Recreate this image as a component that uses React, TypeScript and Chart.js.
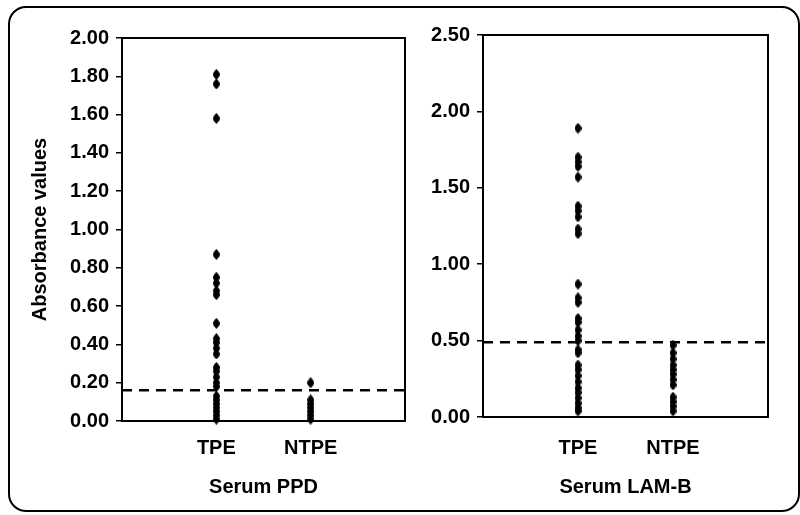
import React, { useEffect, useRef } from "react";
import { Chart, registerables } from "chart.js";

Chart.register(...registerables);

const categories = ["TPE", "NTPE"];

const ppdTPE = [1.81, 1.76, 1.58, 0.87, 0.75, 0.72, 0.68, 0.66, 0.51, 0.43, 0.41, 0.38, 0.35, 0.28, 0.26, 0.23, 0.2, 0.18, 0.13, 0.11, 0.09, 0.07, 0.05, 0.03, 0.01];
const ppdNTPE = [0.2, 0.11, 0.09, 0.07, 0.05, 0.03, 0.01];
const ppdCutoff = 0.16;
const ppdTicks = { min: 0, max: 2, step: 0.2 };

const lamTPE = [1.89, 1.7, 1.67, 1.64, 1.57, 1.38, 1.35, 1.31, 1.23, 1.2, 0.87, 0.78, 0.75, 0.645, 0.62, 0.57, 0.53, 0.5, 0.44, 0.42, 0.34, 0.31, 0.27, 0.23, 0.19, 0.16, 0.125, 0.09, 0.06, 0.04];
const lamNTPE = [0.47, 0.42, 0.38, 0.34, 0.31, 0.28, 0.245, 0.21, 0.13, 0.1, 0.07, 0.04];
const lamCutoff = 0.49;
const lamTicks = { min: 0, max: 2.5, step: 0.5 };

const FONT = "'Liberation Sans', Arial, sans-serif";

function makeDot(): HTMLCanvasElement {
  const c = document.createElement("canvas");
  c.width = 7;
  c.height = 11;
  const g = c.getContext("2d")!;
  g.fillStyle = "#000";
  g.beginPath();
  g.moveTo(3.5, 0);
  g.quadraticCurveTo(7, 3.5, 7, 5.5);
  g.quadraticCurveTo(7, 7.5, 3.5, 11);
  g.quadraticCurveTo(0, 7.5, 0, 5.5);
  g.quadraticCurveTo(0, 3.5, 3.5, 0);
  g.closePath();
  g.fill();
  return c;
}

const framePlugin = {
  id: "frame",
  beforeDatasetsDraw(chart: any) {
    const { ctx, chartArea: a } = chart;
    ctx.save();
    ctx.strokeStyle = "#000";
    ctx.lineWidth = 2;
    ctx.strokeRect(a.left, a.top, a.right - a.left, a.bottom - a.top);
    ctx.restore();
  },
};

interface PanelCfg {
  groups: number[][];
  cutoff: number;
  ticks: { min: number; max: number; step: number };
  xTitle: string;
  yTitle?: string;
  yWidth: number;
  padTop: number;
  padRight: number;
  xHeight: number;
  xLabelPad: number;
}

function buildChart(canvas: HTMLCanvasElement, cfg: PanelCfg, dot: HTMLCanvasElement) {
  const scatterData: { x: number; y: number }[] = [];
  cfg.groups.forEach((vals, gi) => vals.forEach((v) => scatterData.push({ x: gi + 1, y: v })));
  const font = { family: FONT, size: 20, weight: "bold" as const };
  return new Chart(canvas, {
    type: "scatter",
    data: {
      datasets: [
        {
          type: "line",
          data: [
            { x: 0, y: cfg.cutoff },
            { x: categories.length + 1, y: cfg.cutoff },
          ],
          borderColor: "#000",
          borderWidth: 2.5,
          borderDash: [10, 7],
          pointRadius: 0,
          fill: false,
        } as any,
        {
          data: scatterData,
          pointStyle: dot as any,
          pointRadius: 4,
          backgroundColor: "#000",
          borderColor: "#000",
          clip: false as any,
        },
      ],
    },
    options: {
      animation: false,
      responsive: false,
      maintainAspectRatio: false,
      layout: { padding: { left: 0, top: cfg.padTop, right: cfg.padRight, bottom: 0 } },
      plugins: { legend: { display: false }, tooltip: { enabled: false } },
      scales: {
        x: {
          type: "linear",
          min: 0,
          max: categories.length + 1,
          afterBuildTicks: (s: any) => {
            s.ticks = categories.map((_, i) => ({ value: i + 1 }));
          },
          afterFit: (s: any) => {
            s.height = cfg.xHeight;
          },
          ticks: {
            callback: (v: any) => categories[Number(v) - 1] ?? "",
            font,
            color: "#000",
            padding: cfg.xLabelPad,
            maxRotation: 0,
          },
          grid: { display: false, drawTicks: false },
          border: { display: true, color: "#000", width: 2 },
          title: {
            display: true,
            text: cfg.xTitle,
            font,
            color: "#000",
            padding: { top: 0, bottom: 16 },
          },
        },
        y: {
          type: "linear",
          min: cfg.ticks.min,
          max: cfg.ticks.max,
          afterFit: (s: any) => {
            s.width = cfg.yWidth;
          },
          ticks: {
            stepSize: cfg.ticks.step,
            callback: (v: any) => Number(v).toFixed(2),
            font,
            color: "#000",
            padding: 7,
          },
          grid: {
            drawOnChartArea: false,
            drawTicks: true,
            tickLength: 6,
            tickColor: "#000",
            lineWidth: 1.5,
          },
          border: { display: true, color: "#000", width: 2 },
          title: {
            display: !!cfg.yTitle,
            text: cfg.yTitle ?? "",
            font,
            color: "#000",
            padding: { top: 28, bottom: 0 },
          },
        },
      },
    },
    plugins: [framePlugin],
  });
}

export default function App() {
  const leftRef = useRef<HTMLCanvasElement>(null);
  const rightRef = useRef<HTMLCanvasElement>(null);

  useEffect(() => {
    const dot = makeDot();
    const left = buildChart(
      leftRef.current!,
      {
        groups: [ppdTPE, ppdNTPE],
        cutoff: ppdCutoff,
        ticks: ppdTicks,
        xTitle: "Serum PPD",
        yTitle: "Absorbance values",
        yWidth: 122,
        padTop: 38,
        padRight: 3,
        xHeight: 94,
        xLabelPad: 15,
      },
      dot
    );
    const right = buildChart(
      rightRef.current!,
      {
        groups: [lamTPE, lamNTPE],
        cutoff: lamCutoff,
        ticks: lamTicks,
        xTitle: "Serum LAM-B",
        yWidth: 73,
        padTop: 35,
        padRight: 32,
        xHeight: 98,
        xLabelPad: 19,
      },
      dot
    );
    return () => {
      left.destroy();
      right.destroy();
    };
  }, []);

  return (
    <div style={{ position: "absolute", left: 0, top: 0, width: 800, height: 515, background: "#fff", overflow: "hidden" }}>
      <div
        style={{
          position: "absolute",
          left: 8,
          top: 6,
          width: 788,
          height: 502,
          border: "2px solid #000",
          borderRadius: 18,
        }}
      />
      <canvas ref={leftRef} width={410} height={515} style={{ position: "absolute", left: 0, top: 0 }} />
      <canvas ref={rightRef} width={390} height={515} style={{ position: "absolute", left: 410, top: 0 }} />
    </div>
  );
}
